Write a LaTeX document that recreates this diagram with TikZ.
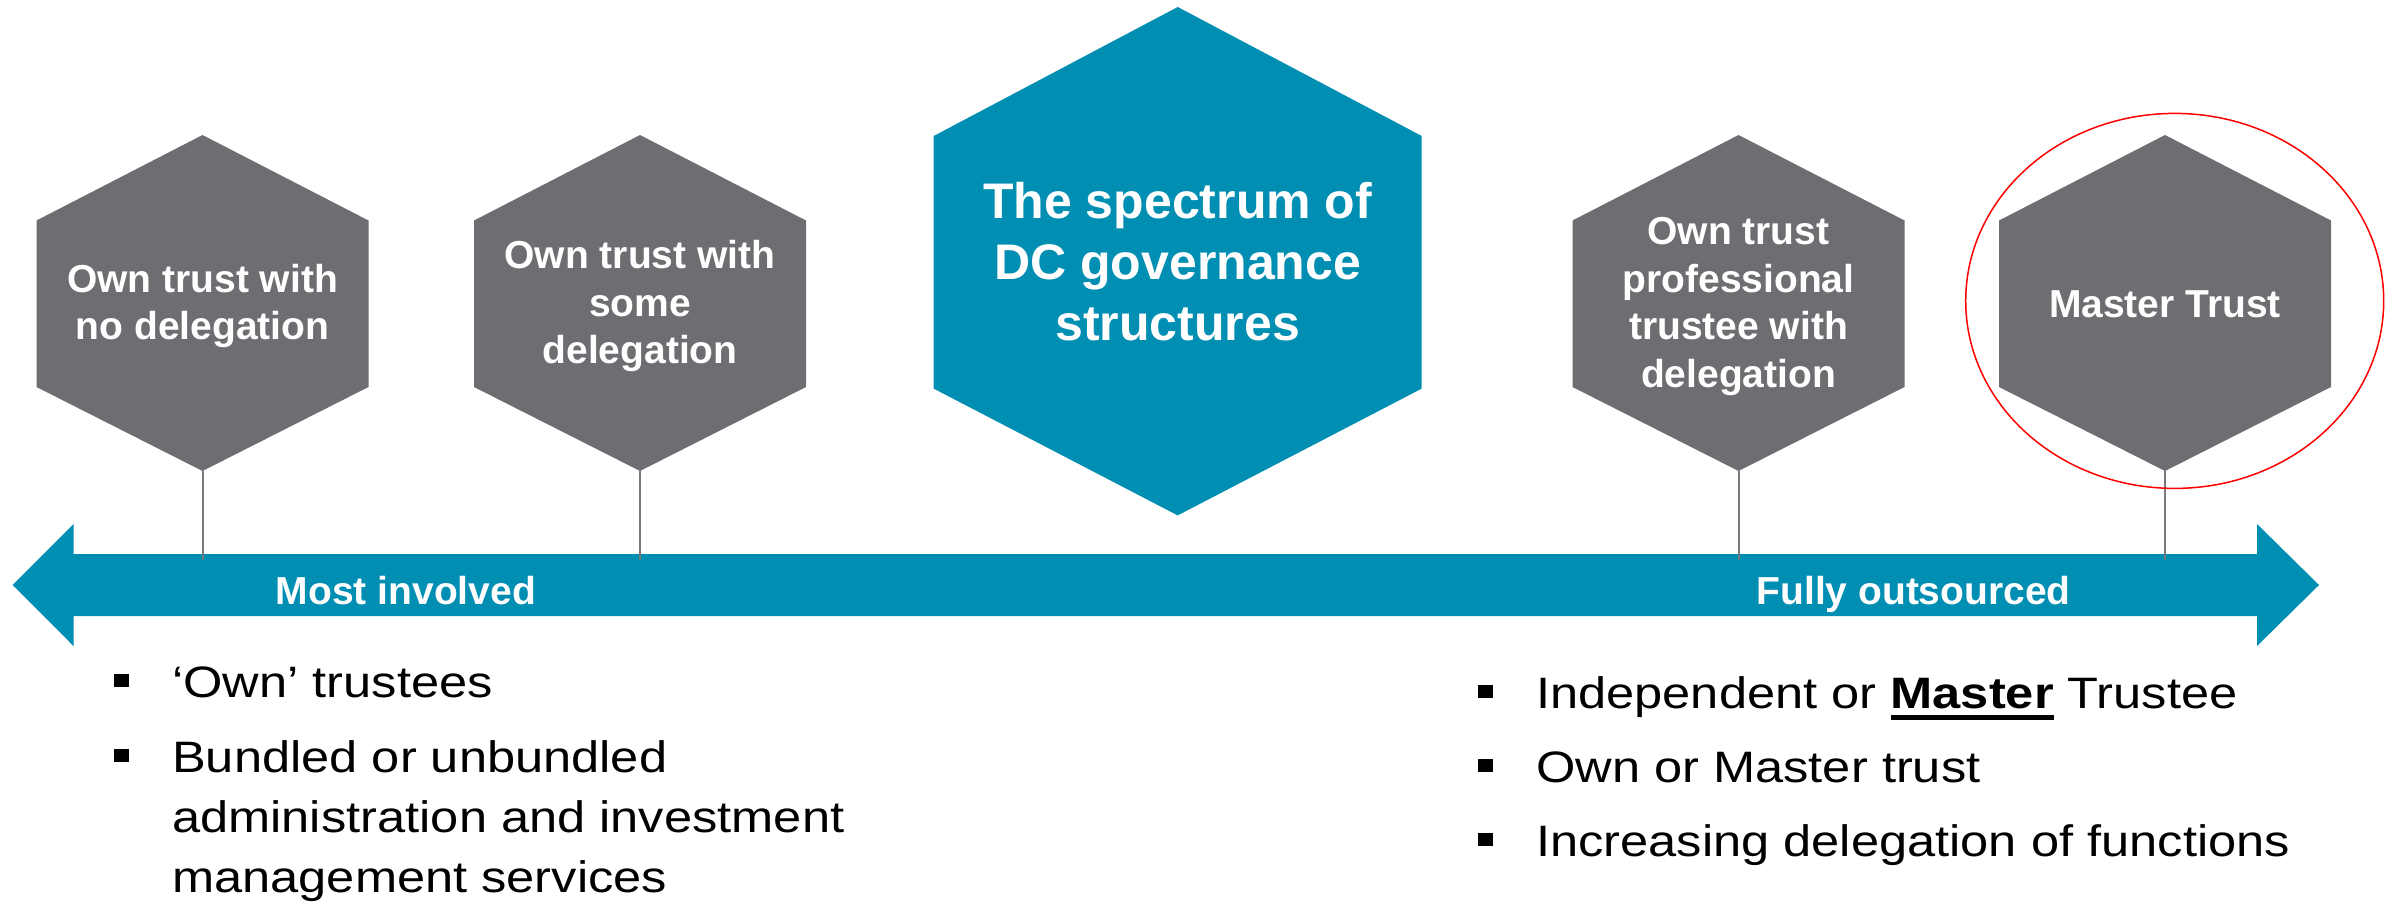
\documentclass[tikz,border=0pt]{standalone}
\usepackage{fontspec}
\setmainfont{Liberation Sans}
\newfontfamily\bulletfont{Liberation Sans}[FakeStretch=1.15]
\usetikzlibrary{positioning,shapes.geometric}

\definecolor{hexgray}{RGB}{109,110,113}
\definecolor{spectrumblue}{RGB}{0,142,178}
\definecolor{stemgray}{RGB}{120,120,124}

\newcommand{\ulbold}[1]{\setbox0\hbox{\bfseries #1}\rlap{\rule[-12pt]{\wd0}{5pt}}\box0\relax}

\begin{document}
\begin{tikzpicture}
    [x=1pt, y=-1pt]
    \tikzset{hexlabel/.style = {text=white, align=center, inner sep=0pt,
                                font=\fontsize{39}{47.5}\selectfont\bfseries},
             barlabel/.style = {text=white, anchor=base, inner sep=0pt,
                                font=\fontsize{39}{47}\selectfont\bfseries},
             stem/.style     = {draw=stemgray, line width=2pt},
             point/.style    = {anchor=base west, align=left, inner sep=0pt,
                                font=\bulletfont\fontsize{44}{60}\selectfont},
             square/.style   = {fill=black, minimum width=15pt, minimum height=13pt, inner sep=0pt}}
    \useasboundingbox (0,0) rectangle (2391,905);

    % double arrow
    \fill[spectrumblue] (12.6,585) -- (73.5,524) -- (73.5,554) -- (2257,554) -- (2257,524)
        -- (2319,585) -- (2257,646) -- (2257,616) -- (73.5,616) -- (73.5,646) -- cycle;
    \coordinate (bar) at (1165,560);
    \node[barlabel] (involved)   at (406,604)    {Most involved};
    \node[barlabel] (outsourced) at (1913.6,604) {Fully outsourced};

    % gray hexagons
    \foreach \hexid/\cx/\ty/\txt in {noleg/202.5/306/{Own trust with\\no delegation},
                                     someleg/640/306/{Own trust with\\some\\delegation},
                                     profleg/1738.5/306.5/{Own trust\\professional\\trustee with\\delegation},
                                     master/2165/304/{Master Trust}}
    {
        \fill[hexgray] (\cx,135) -- (\cx+166,220.5) -- (\cx+166,387) -- (\cx,471)
            -- (\cx-166,387) -- (\cx-166,220.5) -- cycle;
        \node[hexlabel] (\hexid) at (\cx,\ty) {\txt};
        \coordinate (\hexid-tip) at (\cx,471);
    }
    \foreach \hexid in {noleg,someleg,profleg,master}
        \draw[stem] (\hexid-tip) -- (\hexid-tip |- bar);

    % centre hexagon
    \fill[spectrumblue] (1177.7,7) -- (1421.7,136) -- (1421.7,388.6) -- (1177.7,515.4)
        -- (933.7,388.6) -- (933.7,136) -- cycle;
    \node[text=white, align=center, font=\fontsize{50}{61}\selectfont\bfseries] (spectrum)
        at (1177.7,262) {The spectrum of\\DC governance\\structures};

    \node[draw=red, line width=1.5pt, ellipse, minimum width=418pt, minimum height=375pt,
          inner sep=0pt] (ring) at (2174.7,300.9) {};

    % bullet points (base of a multi-line node = its last line)
    \node[point] (owntee)     at (172,697)   {‘Own’ trustees};
    \node[point] (bundled)    at (172,892)   {Bundled or unbundled\\administration and investment\\management services};
    \node[point] (indep)      at (1536,708)  {Independent or \ulbold{Master} Trustee};
    \node[point] (ownmaster)  at (1536,782)  {Own or Master trust};
    \node[point] (increasing) at (1536,856)  {Increasing delegation of functions};
    \foreach \item/\up in {owntee/16.5,bundled/136.5,indep/16.5,ownmaster/16.5,increasing/16.5}
        \node[square] (\item-sq) at ([shift={(-50.5,-\up)}]\item.base west) {};
\end{tikzpicture}
\end{document}
